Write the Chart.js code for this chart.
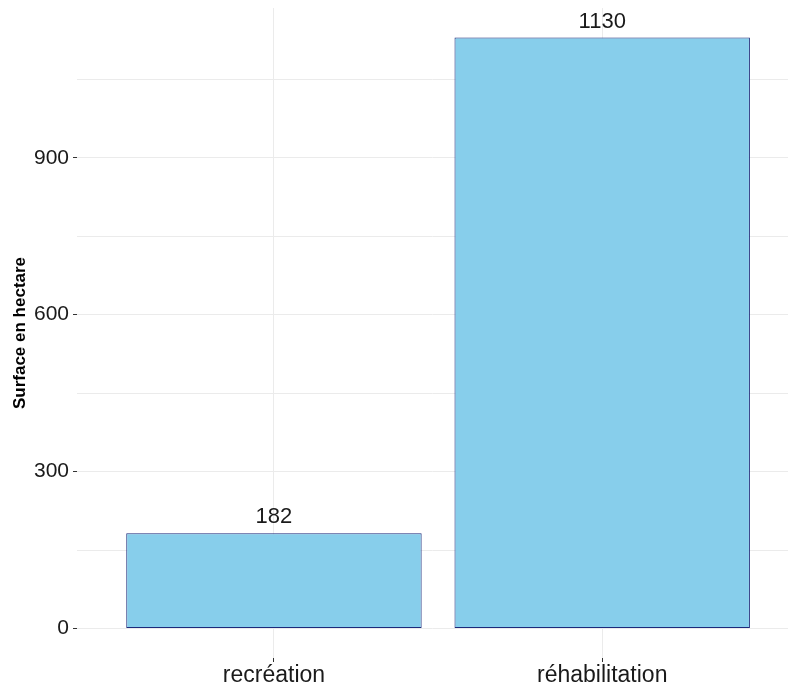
<!DOCTYPE html>
<html>
<head>
<meta charset="utf-8">
<script src="https://cdn.jsdelivr.net/npm/chart.js@4"></script>
<style>
  html, body { margin: 0; padding: 0; background: #fff; }
  #wrap { width: 788px; height: 687px; }
</style>
</head>
<body>
<div id="wrap"><canvas id="chart" width="788" height="687"></canvas></div>
<script>
// ---------- Data ----------
const categories = ["recréation", "réhabilitation"];
const surfaces = [182, 1130];
const yTicks = [0, 150, 300, 450, 600, 750, 900, 1050];
const yLabelled = [0, 300, 600, 900];

const FONT = '"Liberation Sans", Arial, sans-serif';
const GRID = "#ebebeb";

// value labels above each bar
const valueLabels = {
  id: "valueLabels",
  afterDatasetsDraw(chart) {
    const { ctx } = chart;
    const meta = chart.getDatasetMeta(0);
    ctx.save();
    ctx.font = `22px ${FONT}`;
    ctx.fillStyle = "#1a1a1a";
    ctx.textAlign = "center";
    ctx.textBaseline = "alphabetic";
    meta.data.forEach((bar, i) => {
      ctx.fillText(String(surfaces[i]), bar.x, bar.y - 10);
    });
    ctx.restore();
  }
};

new Chart(document.getElementById("chart"), {
  type: "bar",
  data: {
    datasets: [{
      data: surfaces.map((v, i) => ({ x: i + 1, y: v })),
      backgroundColor: "#87ceeb",
      borderColor: "#1c2a7a",
      borderWidth: 1,
      borderSkipped: false,
      categoryPercentage: 1,
      barPercentage: 0.9
    }]
  },
  options: {
    responsive: false,
    animation: false,
    layout: { padding: { top: 8, right: 0, left: 0, bottom: 0 } },
    plugins: { legend: { display: false }, tooltip: { enabled: false } },
    scales: {
      x: {
        type: "linear",
        min: 0.4,
        max: 2.566,
        offset: false,
        afterBuildTicks: s => { s.ticks = categories.map((c, i) => ({ value: i + 1 })); },
        afterFit: s => { s.height = 29; s.paddingLeft = 0; s.paddingRight = 0; },
        border: { display: false },
        grid: { color: GRID, lineWidth: 1, offset: false, tickLength: 4, tickColor: "#333" },
        ticks: {
          padding: 0,
          color: "#1a1a1a",
          font: { family: FONT, size: 23 },
          maxRotation: 0,
          callback: v => categories[Math.round(v) - 1] ?? ""
        }
      },
      y: {
        min: -56.5,
        max: 1186.5,
        afterBuildTicks: s => { s.ticks = yTicks.map(v => ({ value: v })); },
        afterFit: s => { s.width = 77; s.paddingTop = 0; s.paddingBottom = 0; },
        border: { display: false },
        grid: {
          color: GRID,
          lineWidth: 1,
          tickLength: 4,
          tickColor: c => yLabelled.includes(c.tick && c.tick.value) ? "#333" : "rgba(0,0,0,0)"
        },
        ticks: {
          padding: 4,
          color: "#1a1a1a",
          font: { family: FONT, size: 21 },
          callback: v => yLabelled.includes(v) ? String(v) : ""
        },
        title: {
          display: true,
          text: "Surface en hectare",
          color: "#000",
          font: { family: FONT, size: 17, weight: "bold" },
          padding: { top: 10, bottom: 0 }
        }
      }
    }
  },
  plugins: [valueLabels]
});
</script>
</body>
</html>
